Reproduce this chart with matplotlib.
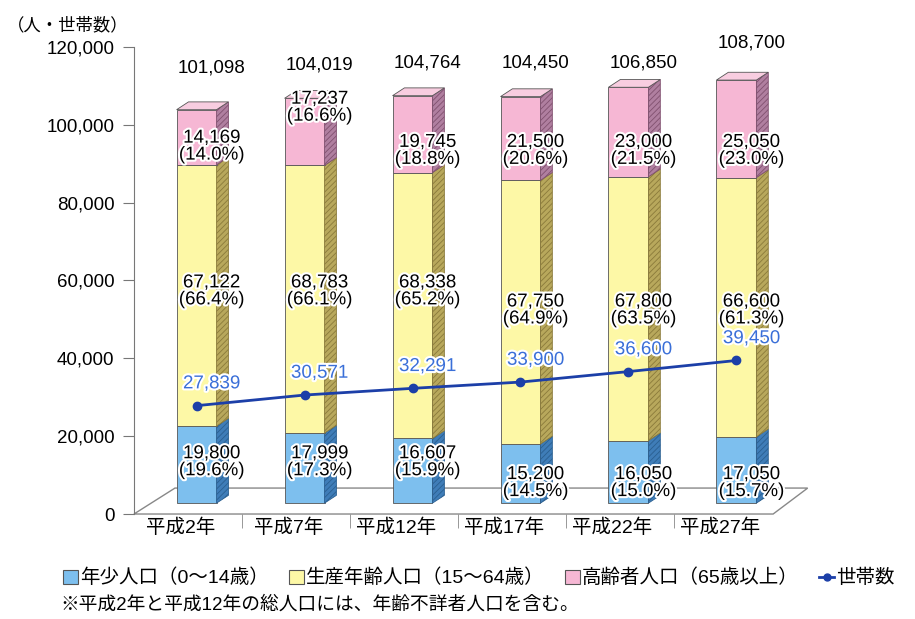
import matplotlib
matplotlib.use('Agg')
import matplotlib.pyplot as plt
import matplotlib.patheffects as pe
from matplotlib.patches import Polygon
from matplotlib.lines import Line2D

# latin digits in a Helvetica-like face, kana/kanji from Noto CJK
plt.rcParams['font.family'] = ['Liberation Sans', 'Noto Sans CJK JP', 'DejaVu Sans']
plt.rcParams['hatch.linewidth'] = 0.6

years = ['平成2年', '平成7年', '平成12年', '平成17年', '平成22年', '平成27年']
young = [19800, 17999, 16607, 15200, 16050, 17050]
working = [67122, 68783, 68338, 67750, 67800, 66600]
elderly = [14169, 17237, 19745, 21500, 23000, 25050]
young_pct = [19.6, 17.3, 15.9, 14.5, 15.0, 15.7]
working_pct = [66.4, 66.1, 65.2, 64.9, 63.5, 61.3]
elderly_pct = [14.0, 16.6, 18.8, 20.6, 21.5, 23.0]
totals = [101098, 104019, 104764, 104450, 106850, 108700]
households = [27839, 30571, 32291, 33900, 36600, 39450]

# label heights as placed in the original (layout, not data)
young_label_y = [13300, 13300, 13300, 7950, 7950, 7950]
working_label_y = [57200, 57200, 57200, 52300, 52300, 52300]
elderly_label_y = [94400, 104400, 93300, 93300, 93300, 93300]
total_label_y = [114600, 115400, 115900, 115900, 115900, 121000]

FLOOR = 2800      # bars stand in the middle of the 3d floor
W = 0.37          # bar width
DX, DY = 0.11, 2000   # depth of the 3d effect
SHIFT = 0.08
FS = 13.5

segs = [
    (young, young_pct, young_label_y, '#7dbfee', '#3f7db8', '#2a5f90'),
    (working, working_pct, working_label_y, '#fdf8a6', '#b8a85c', '#8a7a3a'),
    (elderly, elderly_pct, elderly_label_y, '#f6b7d4', '#b07fa0', '#80506f'),
]
white_edge = [pe.withStroke(linewidth=3, foreground='white')]

fig = plt.figure(figsize=(9.15, 6.19), dpi=100)
ax = fig.add_axes([0.1464, 0.1696, 0.708, 0.7545])
ax.set_xlim(-0.5, 5.5)
ax.set_ylim(0, 120000)

# floor
floor = Polygon([(-0.5, 0), (5.42, 0), (5.74, 6670), (-0.12, 6670)], closed=True,
                facecolor='white', edgecolor='#888888', lw=1.0, zorder=1, clip_on=False)
ax.add_patch(floor)

outline = '#555555'
for i in range(len(years)):
    x0 = i + SHIFT - W / 2
    x1 = x0 + W
    bottom = FLOOR
    for vals, pcts, ly, front, side, hatchc in segs:
        top = bottom + vals[i]
        ax.add_patch(Polygon([(x0, bottom), (x1, bottom), (x1, top), (x0, top)],
                             facecolor=front, edgecolor=outline, lw=0.6, zorder=2))
        ax.add_patch(Polygon([(x1, bottom), (x1 + DX, bottom + DY), (x1 + DX, top + DY), (x1, top)],
                             facecolor=side, edgecolor=hatchc, hatch='//////', lw=0.6, zorder=2))
        ax.text(i + SHIFT + 0.14, ly[i], f'{vals[i]:,}\n({pcts[i]:.1f}%)', ha='center', va='center',
                fontsize=FS, linespacing=1.0, zorder=5, path_effects=white_edge)
        bottom = top
    # top face
    ax.add_patch(Polygon([(x0, bottom), (x1, bottom), (x1 + DX, bottom + DY), (x0 + DX, bottom + DY)],
                         facecolor='#f8cde0', edgecolor=outline, lw=0.6, zorder=2, clip_on=False))
    ax.text(i + SHIFT + 0.14, total_label_y[i], f'{totals[i]:,}', ha='center', va='center',
            fontsize=FS, zorder=5, clip_on=False)

xs = [i + SHIFT for i in range(len(years))]
ax.plot(xs, households, color='#1c3fa8', lw=2, marker='o', ms=6, zorder=4)
for x, h in zip(xs, households):
    ax.text(x + 0.14, h + 5600, f'{h:,}', ha='center', va='center', fontsize=FS,
            color='#3a6fd8', zorder=5, path_effects=white_edge)

# axes styling
for s in ['top', 'right', 'bottom']:
    ax.spines[s].set_visible(False)
ax.spines['left'].set_color('#777777')
ax.set_yticks(range(0, 120001, 20000))
ax.set_yticklabels([f'{v:,}' for v in range(0, 120001, 20000)], fontsize=FS)
ax.tick_params(axis='y', length=8, color='#777777', pad=6)
ax.set_xticks([i - 0.07 for i in range(len(years))])
ax.set_xticklabels(years, fontsize=14)
ax.tick_params(axis='x', length=0, pad=3)
ax.set_xticks([i + 0.5 for i in range(len(years) - 1)], minor=True)
ax.tick_params(axis='x', which='minor', length=10, color='#888888')

fig.text(0.008, 0.96, '（人・世帯数）', fontsize=12.5, va='center')

handles = [
    Polygon([(0, 0)], facecolor='#7dbfee', edgecolor='#555555', lw=0.8),
    Polygon([(0, 0)], facecolor='#fdf8a6', edgecolor='#555555', lw=0.8),
    Polygon([(0, 0)], facecolor='#f6b7d4', edgecolor='#555555', lw=0.8),
    Line2D([], [], color='#1c3fa8', lw=2, marker='o', ms=5),
]
labels = ['年少人口（0～14歳）', '生産年齢人口（15～64歳）', '高齢者人口（65歳以上）', '世帯数']
fig.legend(handles, labels, loc='center left', bbox_to_anchor=(0.05, 0.066), ncol=4,
           frameon=False, fontsize=14, handlelength=0.75, handleheight=0.75, handletextpad=0.12,
           columnspacing=1.05)
fig.text(0.066, 0.022, '※平成2年と平成12年の総人口には、年齢不詳者人口を含む。', fontsize=13.5, va='center')

fig.savefig('out.png', dpi=100)
